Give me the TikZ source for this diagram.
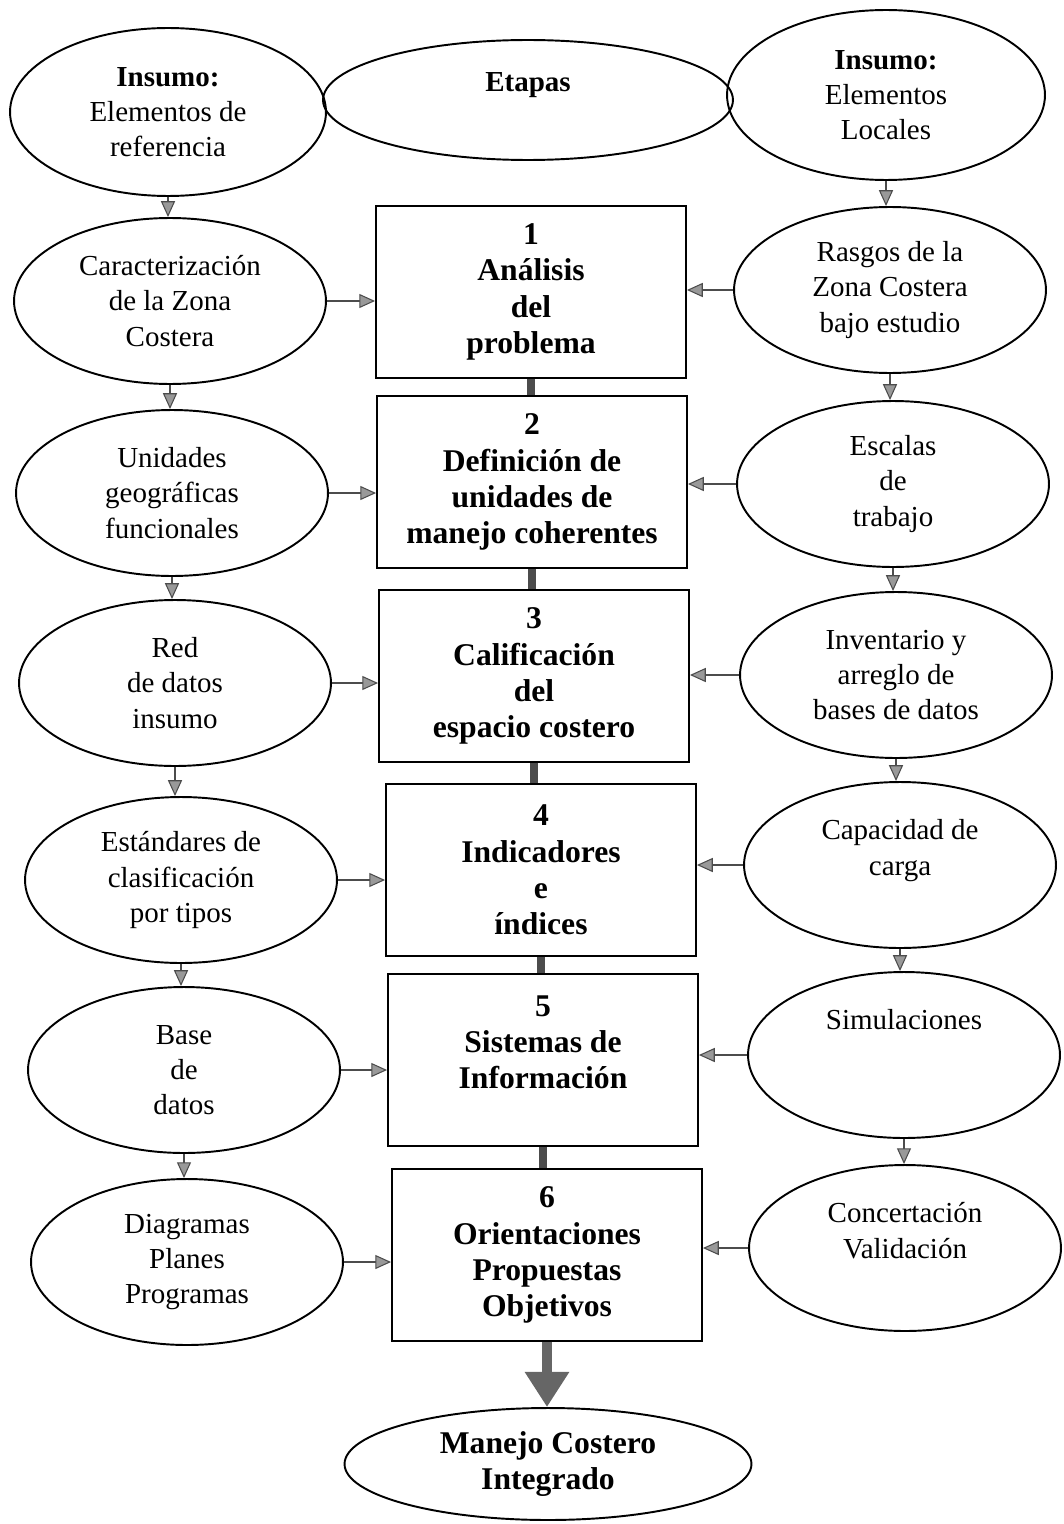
\documentclass[tikz,border=0pt]{standalone}
\usepackage{fontspec}
\setmainfont{Liberation Serif}
\usetikzlibrary{shapes.geometric, arrows.meta}

\tikzset{
  oval/.style={ellipse, draw, line width=1.1pt, inner sep=0pt, align=center,
    minimum width=6.24cm, minimum height=3.32cm,
    font=\fontsize{16.5}{20}\selectfont},
  etapa/.style={rectangle, draw, line width=1.1pt, inner sep=0pt, align=center,
    minimum width=6.2cm, minimum height=3.44cm,
    font=\fontsize{18}{20.6}\selectfont\bfseries},
  flecha/.style={line width=1pt, draw=black!70,
    -{Triangle[length=9pt, width=8pt, fill=black!40, color=black!70, line width=0.6pt]}},
  enlace/.style={line width=4.5pt, draw=black!70},
  salida/.style={line width=6pt, draw=black!60,
    -{Triangle[length=20pt, width=24pt, fill=black!60]}}
}

\begin{document}
\begin{tikzpicture}[x=0.02cm, y=-0.02cm]
    \useasboundingbox (0,0) rectangle (1063,1524);

    % Nodes
    \node[oval, minimum width=6.32cm, minimum height=3.36cm] at (168,112) (L0) {\textbf{Insumo:}\\Elementos de\\referencia};
    \node[oval, minimum width=8.2cm, minimum height=2.4cm] at (528,100) (Et) {\textbf{Etapas}\\~};
    \node[oval, minimum width=6.36cm, minimum height=3.4cm] at (886,95) (R0) {\textbf{Insumo:}\\Elementos\\Locales};

    \node[oval] at (170,301) (L1) {Caracterización\\de la Zona\\Costera};
    \node[oval] at (172,493) (L2) {Unidades\\geográficas\\funcionales};
    \node[oval] at (175,683) (L3) {Red\\de datos\\insumo};
    \node[oval] at (181,880) (L4) {Estándares de\\clasificación\\por tipos};
    \node[oval] at (184,1070) (L5) {Base\\de\\datos};
    \node[oval] at (187,1262) (L6) {Diagramas\\Planes\\Programas};

    \node[etapa] at (531,292) (E1) {1\\Análisis\\del\\problema};
    \node[etapa] at (532,482) (E2) {2\\Definición de\\unidades de\\manejo coherentes};
    \node[etapa] at (534,676) (E3) {3\\Calificación\\del\\espacio costero};
    \node[etapa] at (541,870) (E4) {4\\Indicadores\\e\\índices};
    \node[etapa] at (543,1060) (E5) {5\\Sistemas de\\Información\\~};
    \node[etapa] at (547,1255) (E6) {6\\Orientaciones\\Propuestas\\Objetivos};

    \node[oval] at (890,290) (R1) {Rasgos de la\\Zona Costera\\bajo estudio};
    \node[oval] at (893,484) (R2) {Escalas\\de\\trabajo};
    \node[oval] at (896,675) (R3) {Inventario y\\arreglo de\\bases de datos};
    \node[oval] at (900,865) (R4) {Capacidad de\\carga\\~};
    \node[oval] at (904,1055) (R5) {Simulaciones\\~\\~};
    \node[oval] at (905,1248) (R6) {Concertación\\Validación\\~};

    \node[oval, minimum width=8.14cm, minimum height=2.24cm,
      font=\fontsize{18}{20.6}\selectfont\bfseries] at (548,1464) (MCI) {Manejo Costero\\Integrado};

    % Arrows
    \foreach \i/\j in {0/1, 1/2, 2/3, 3/4, 4/5, 5/6} {
        \draw[flecha] (L\i.south) -- (L\i.south |- L\j.north);
        \draw[flecha] (R\i.south) -- (R\i.south |- R\j.north);
    }
    \foreach \i in {1,...,6} {
        \draw[flecha] (L\i.east) -- (L\i.east -| E\i.west);
        \draw[flecha] (R\i.west) -- (R\i.west -| E\i.east);
    }
    \foreach \i/\j in {1/2, 2/3, 3/4, 4/5, 5/6}
        \draw[enlace] (E\i.south) -- (E\i.south |- E\j.north);
    \draw[salida] (E6.south) -- (E6.south |- MCI.north);

\end{tikzpicture}
\end{document}
